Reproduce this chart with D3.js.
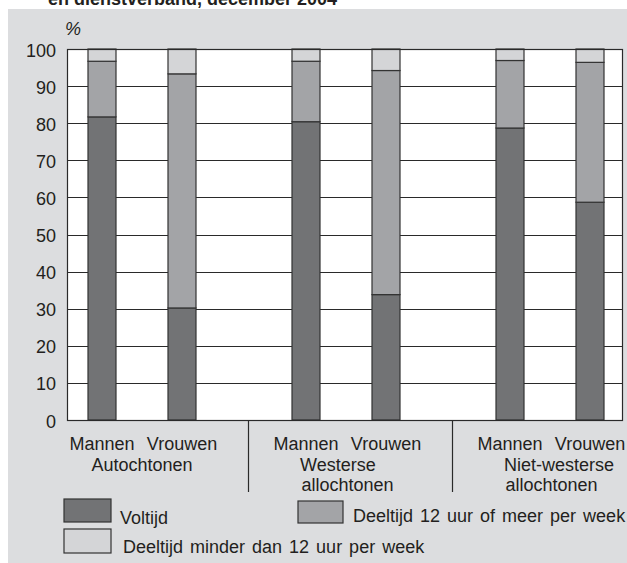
<!DOCTYPE html>
<html>
<head>
<meta charset="utf-8">
<script src="https://cdn.jsdelivr.net/npm/d3@7"></script>
<style>
  body { margin: 0; background: #fff; }
  text { font-family: "Liberation Sans", Arial, sans-serif; fill: #231f20; }
</style>
</head>
<body>
<div id="chart"></div>
<script>
// Data
const groups = ["Autochtonen", "Westerse allochtonen", "Niet-westerse allochtonen"];
const groupLines = [["Autochtonen"], ["Westerse", "allochtonen"], ["Niet-westerse", "allochtonen"]];
const sexes = ["Mannen", "Vrouwen"];
const voltijd = [81.7, 30.2, 80.4, 33.8, 78.7, 58.7];
const deeltijd12 = [15.0, 63.1, 16.3, 60.4, 18.2, 37.7];
const deeltijdMinder = [3.3, 6.7, 3.3, 5.8, 3.1, 3.6];
const yTicks = [0, 10, 20, 30, 40, 50, 60, 70, 80, 90, 100];
const keys = ["voltijd", "deeltijd12", "deeltijdMinder"];
const seriesNames = ["Voltijd", "Deeltijd 12 uur of meer per week", "Deeltijd minder dan 12 uur per week"];

const rows = [];
groups.forEach((g, i) => {
    sexes.forEach((s, j) => {
        const k = i * 2 + j;
        rows.push({ group: g, sex: s, voltijd: voltijd[k], deeltijd12: deeltijd12[k], deeltijdMinder: deeltijdMinder[k] });
    });
});

const W = 627, H = 563;
const plot = { left: 67, right: 623, top: 49, bottom: 420 };

const kleuren = { voltijd: "#727375", deeltijd12: "#a3a4a7", deeltijdMinder: "#d4d5d7" };

const svg = d3.select("#chart").append("svg")
    .attr("width", W)
    .attr("height", H);

// grijze achtergrond
svg.append("rect")
    .attr("x", 8).attr("y", 9)
    .attr("width", W - 8).attr("height", H - 9)
    .attr("fill", "#dcdddf");

// titel (afgesneden)
svg.append("text")
    .attr("x", 48).attr("y", 5)
    .attr("font-size", 18).attr("font-weight", "bold")
    .text("en dienstverband, december 2004");

// Schalen
const xGroup = d3.scaleBand()
    .domain(groups)
    .range([45, 45 + 3 * 204]);

const xSex = d3.scalePoint()
    .domain(sexes)
    .range([57, 137]);

const barW = 28;

const y = d3.scaleLinear()
    .domain([0, 100])
    .range([plot.bottom, plot.top]);

// plotvlak
svg.append("rect")
    .attr("x", plot.left).attr("y", plot.top)
    .attr("width", plot.right - plot.left).attr("height", plot.bottom - plot.top)
    .attr("fill", "#fff");

// rasterlijnen
svg.append("g")
    .selectAll("line")
    .data(yTicks)
    .enter()
    .append("line")
    .attr("x1", plot.left).attr("x2", plot.right)
    .attr("y1", d => Math.round(y(d)) + 0.5)
    .attr("y2", d => Math.round(y(d)) + 0.5)
    .attr("stroke", "#2a2a2a")
    .attr("stroke-width", 1.2);

// y labels
svg.append("g")
    .selectAll("text")
    .data(yTicks)
    .enter()
    .append("text")
    .attr("x", 56)
    .attr("y", d => y(d))
    .attr("dy", "0.42em")
    .attr("text-anchor", "end")
    .attr("font-size", 18)
    .text(d => d);

svg.append("text")
    .attr("x", 65).attr("y", 35)
    .attr("font-size", 18).attr("font-style", "italic")
    .text("%");

// gestapelde staven
const stack = d3.stack().keys(keys);
const series = stack(rows);

svg.append("g")
    .selectAll("g")
    .data(series)
    .enter()
    .append("g")
    .attr("fill", d => kleuren[d.key])
    .selectAll("rect")
    .data(d => d)
    .enter()
    .append("rect")
    .attr("x", d => xGroup(d.data.group) + xSex(d.data.sex) - barW / 2)
    .attr("y", d => y(d[1]))
    .attr("width", barW)
    .attr("height", d => y(d[0]) - y(d[1]))
    .attr("stroke", "#333")
    .attr("stroke-width", 1.2);

// rand van plotvlak
svg.append("rect")
    .attr("x", plot.left + 0.5).attr("y", plot.top + 0.5)
    .attr("width", plot.right - plot.left - 1).attr("height", plot.bottom - plot.top)
    .attr("fill", "none")
    .attr("stroke", "#2a2a2a")
    .attr("stroke-width", 1.2);

// scheidingslijnen tussen groepen
svg.append("g")
    .selectAll("line")
    .data(groups.slice(1))
    .enter()
    .append("line")
    .attr("x1", d => Math.round(xGroup(d)) - 0.5)
    .attr("x2", d => Math.round(xGroup(d)) - 0.5)
    .attr("y1", plot.bottom)
    .attr("y2", 492)
    .attr("stroke", "#2a2a2a")
    .attr("stroke-width", 1.2);

// categorie labels
groups.forEach(g => {
    sexes.forEach(s => {
        svg.append("text")
            .attr("x", xGroup(g) + xSex(s))
            .attr("y", 450)
            .attr("text-anchor", "middle")
            .attr("font-size", 18)
            .text(s);
    });
});

groupLines.forEach((lines, i) => {
    const g = groups[i];
    lines.forEach((line, j) => {
        const t = svg.append("text")
            .attr("y", 471 + j * 20)
            .attr("font-size", 18)
            .text(line);
        if (i === 0) {
            t.attr("x", xGroup(g) + (xSex("Mannen") + xSex("Vrouwen")) / 2)
                .attr("text-anchor", "middle");
        } else {
            t.attr("x", xGroup(g) + xSex("Mannen") - barW / 2 + 8 + j * 1.5);
        }
    });
});

// Legenda
const legendPos = [
    { bx: 64, by: 499, bw: 47, bh: 23, tx: 120, ty: 524 },
    { bx: 298, by: 501, bw: 45, bh: 22, tx: 353, ty: 522 },
    { bx: 64, by: 529, bw: 47, bh: 24, tx: 123, ty: 553 }
];

keys.forEach((key, i) => {
    const p = legendPos[i];
    svg.append("rect")
        .attr("x", p.bx).attr("y", p.by)
        .attr("width", p.bw).attr("height", p.bh)
        .attr("fill", kleuren[key])
        .attr("stroke", "#333")
        .attr("stroke-width", 1.2);

    svg.append("text")
        .attr("x", p.tx).attr("y", p.ty)
        .attr("font-size", 18)
        .attr("word-spacing", "2px")
        .text(seriesNames[i]);
});
</script>
</body>
</html>
